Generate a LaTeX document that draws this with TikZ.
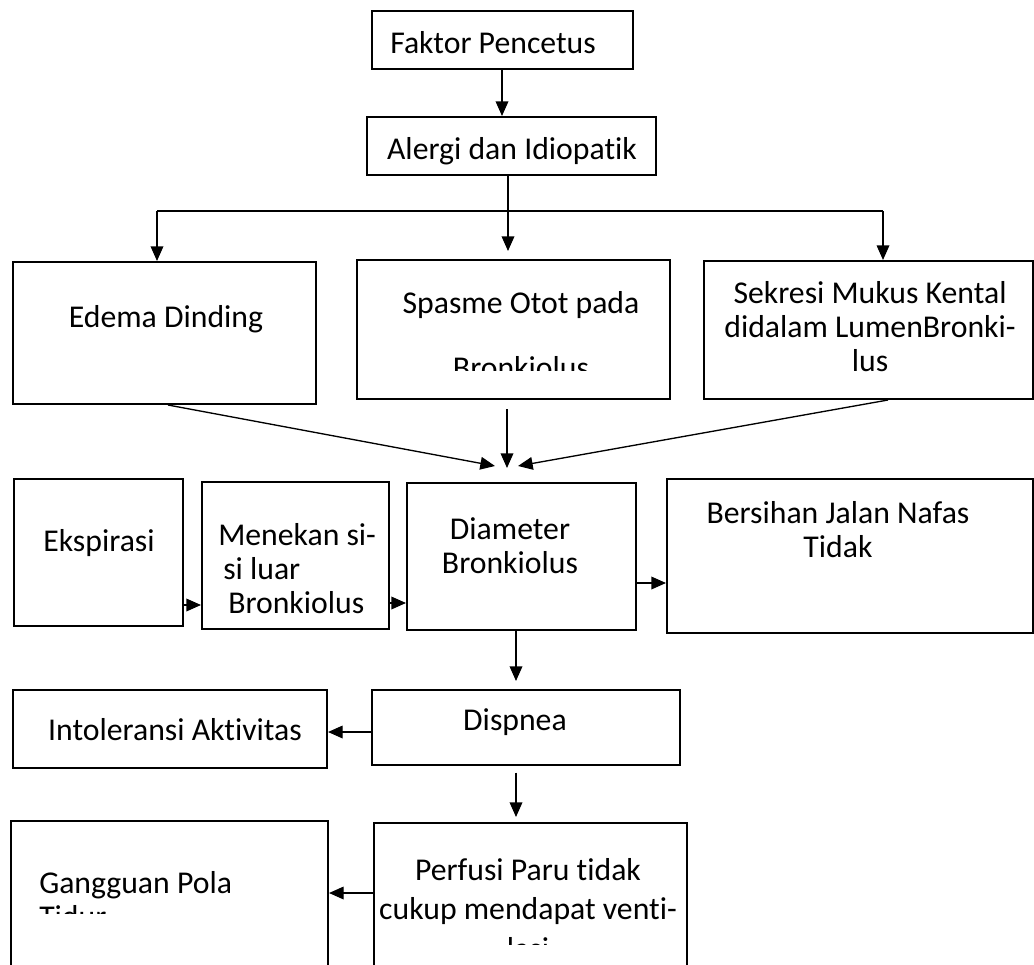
\documentclass[tikz,border=0pt]{standalone}
\usepackage{fontspec}
\setmainfont{Carlito}[Ligatures=NoCommon]
\usetikzlibrary{arrows.meta,fit}

\tikzset{
  kotak/.style={draw, line width=1.5pt, inner sep=0pt},
  teks/.style={font=\fontsize{23.8}{25.5}\selectfont, inner sep=0pt, anchor=base},
  garis/.style={line width=1pt},
  panah/.style={line width=1pt, -{Triangle[length=11pt,width=9.5pt]}}
}

\begin{document}
\begin{tikzpicture}[x=0.75pt,y=-0.75pt]
\useasboundingbox (0,0) rectangle (1034,964);
\clip (0,0) rectangle (1034,964);

% kotak-kotak
\node[kotak, fit={(372,11) (633,69)}] (fp) {};
\node[kotak, fit={(367,117) (656,175)}] (ag) {};
\node[kotak, fit={(13,262) (316,404)}] (ed) {};
\node[kotak, fit={(357,260) (670,399)}] (sp) {};
\node[kotak, fit={(704,261) (1033,399)}] (sk) {};
\node[kotak, fit={(14,479) (183,626)}] (ek) {};
\node[kotak, fit={(202,482) (389,629)}] (mn) {};
\node[kotak, fit={(407,483) (636,630)}] (dm) {};
\node[kotak, fit={(667,479) (1033,633)}] (bj) {};
\node[kotak, fit={(13,690) (327,768)}] (it) {};
\node[kotak, fit={(372,690) (680,765)}] (ds) {};
\node[kotak, fit={(11,821) (328,990)}] (gg) {};
\node[kotak, fit={(374,823) (687,990)}] (pf) {};

% teks (base = baris terakhir)
\node[teks] (fpt) at (493,53) {Faktor Pencetus};
\node[teks] (agt) at (512,159) {Alergi dan Idiopatik};
\node[teks] (edt) at (166,327) {Edema Dinding};
\begin{scope}
  \clip (357,260) rectangle (670,370);
  \node[teks, align=center] (spt) at (521,378) {Spasme Otot pada\\[23pt]Bronkiolus};
\end{scope}
\node[teks, align=center] (skt) at (870,371) {Sekresi Mukus Kental\\didalam LumenBronki-\\lus};
\node[teks] (ekt) at (99,551) {Ekspirasi};
\node[teks, align=left, anchor=base west] (mnt) at (218,613) {Menekan si-\\\hspace{3.75pt}si luar\\\hspace{7.5pt}Bronkiolus};
\node[teks, align=center] (dmt) at (510,573) {Diameter\\Bronkiolus};
\node[teks, align=center] (bjt) at (838,557) {Bersihan Jalan Nafas\\Tidak};
\node[teks] (itt) at (175,740) {Intoleransi Aktivitas};
\node[teks] (dst) at (515,730) {Dispnea};
\begin{scope}
  \clip (11,821) rectangle (328,913);
  \node[teks, align=left, anchor=base west] (ggt) at (39,927) {Gangguan Pola\\Tidur};
\end{scope}
\begin{scope}
  \clip (374,823) rectangle (687,944);
  \node[teks, align=center] (pft) at (528,959) {Perfusi Paru tidak\\[4pt]cukup mendapat venti-\\[4pt]lasi};
\end{scope}

% panah
\coordinate (cab) at (508,211);
\coordinate (kiri) at (157,211);
\coordinate (kanan) at (883,211);
\draw[panah] (fp.south -| 502,0) -- (ag.north -| 502,0);
\draw[garis] (ag.south -| cab) -- (cab);
\draw[garis] (kiri) -- (kanan);
\draw[panah] (kiri) -- (kiri |- ed.north);
\draw[panah] (cab) -- (508,251);
\draw[panah] (kanan) -- (kanan |- sk.north);

\coordinate (ujung1) at (495,466);
\coordinate (ujung2) at (507,468);
\coordinate (ujung3) at (518,466);
\draw[panah] (ed.south -| 168,0) -- (ujung1);
\draw[panah, shorten <=6.75pt] (sp.south -| ujung2) -- (ujung2);
\draw[panah] (sk.south -| 888,0) -- (ujung3);

\draw[panah] (ek.east |- 0,605) -- (mn.west |- 0,605);
\draw[panah] (mn.east |- 0,603) -- (dm.west |- 0,603);
\draw[panah] (dm.east |- 0,583) -- (bj.west |- 0,583);
\draw[panah, shorten >=6pt] (dm.south -| 516,0) -- (ds.north -| 516,0);
\draw[panah] (ds.west |- 0,732) -- (it.east |- 0,732);
\draw[panah, shorten <=5pt, shorten >=3.75pt] (ds.south -| 516,0) -- (pf.north -| 516,0);
\draw[panah] (pf.west |- 0,893) -- (gg.east |- 0,893);
\end{tikzpicture}
\end{document}
